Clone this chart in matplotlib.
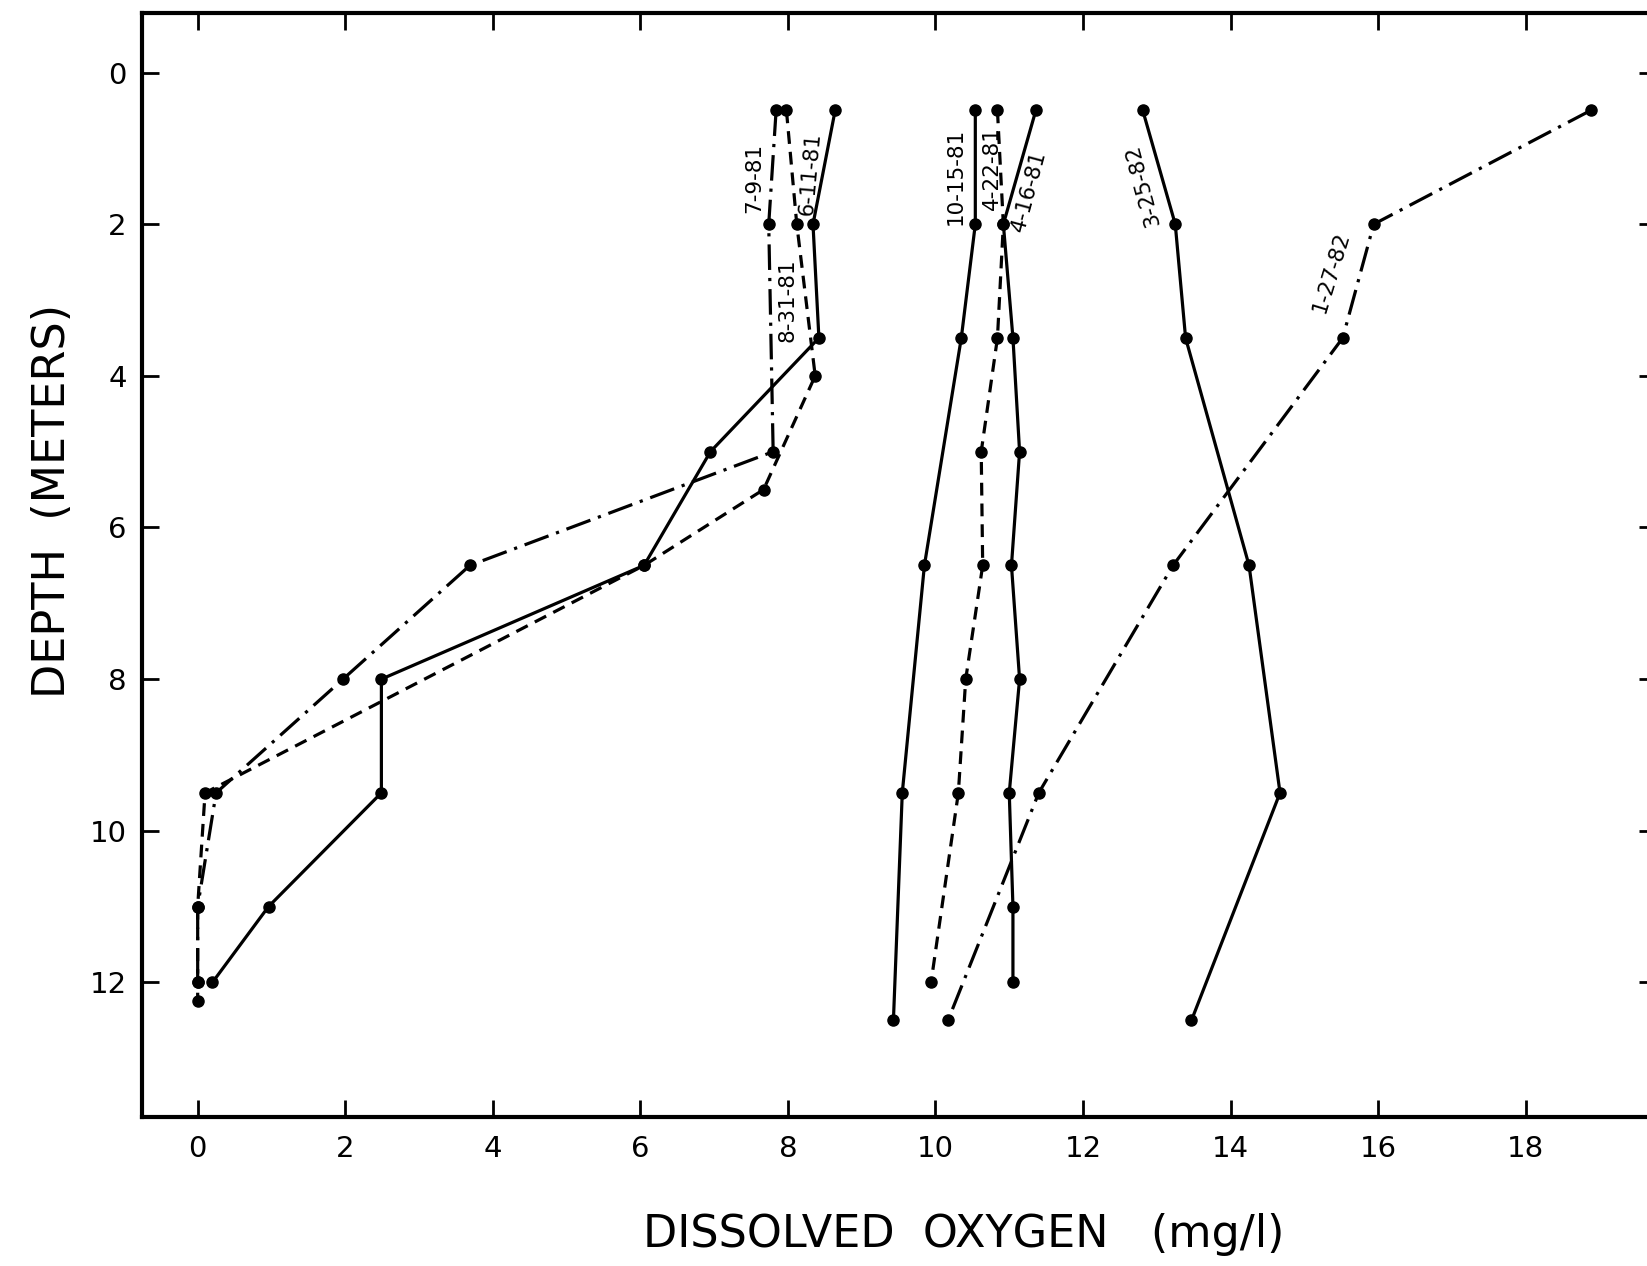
import matplotlib.pyplot as plt

# dissolved oxygen profiles (depth in m, DO in mg/l)
depth_6_11_81 = [0.5, 2, 3.5, 5, 6.5, 8, 9.5, 11, 12]
do_6_11_81 = [8.64, 8.34, 8.42, 6.95, 6.05, 2.49, 2.49, 0.96, 0.2]

depth_7_9_81 = [0.5, 2, 5, 6.5, 8, 9.5, 11, 12, 12.25]
do_7_9_81 = [7.84, 7.74, 7.8, 3.69, 1.97, 0.25, 0.0, 0.0, 0.0]

depth_8_31_81 = [0.5, 2, 4, 5.5, 6.5, 9.5, 11, 12]
do_8_31_81 = [7.98, 8.12, 8.37, 7.67, 6.05, 0.1, 0.0, 0.0]

depth_10_15_81 = [0.5, 2, 3.5, 6.5, 9.5, 12.5]
do_10_15_81 = [10.54, 10.54, 10.35, 9.85, 9.55, 9.43]

depth_4_22_81 = [0.5, 2, 3.5, 5, 6.5, 8, 9.5, 12]
do_4_22_81 = [10.84, 10.92, 10.84, 10.62, 10.64, 10.41, 10.31, 9.94]

depth_4_16_81 = [0.5, 2, 3.5, 5, 6.5, 8, 9.5, 11, 12]
do_4_16_81 = [11.36, 10.92, 11.05, 11.14, 11.03, 11.14, 11.0, 11.05, 11.05]

depth_3_25_82 = [0.5, 2, 3.5, 6.5, 9.5, 12.5]
do_3_25_82 = [12.81, 13.25, 13.39, 14.25, 14.67, 13.47]

depth_1_27_82 = [0.5, 2, 3.5, 6.5, 9.5, 12.5]
do_1_27_82 = [18.88, 15.94, 15.52, 13.22, 11.4, 10.17]

# date labels: text, x, y, rotation
label_text = ['7-9-81', '6-11-81', '8-31-81', '10-15-81', '4-22-81', '4-16-81', '3-25-82', '1-27-82']
label_x = [7.55, 8.3, 8.0, 10.28, 10.76, 11.27, 12.81, 15.36]
label_y = [1.39, 1.33, 3.0, 1.37, 1.26, 1.56, 1.48, 2.63]
label_rot = [90, 85, 90, 90, 90, 75, 105, 73]

dashdot = (0, (8, 2.5, 1, 2.5))
dashed = (0, (4, 2.5))

fig = plt.figure(figsize=(16.47, 12.66), dpi=100)
ax = fig.add_axes([0.0862, 0.118, 0.919, 0.872])

kw = dict(color='black', lw=2.3, marker='o', markersize=8)
ax.plot(do_6_11_81, depth_6_11_81, linestyle='-', **kw)
ax.plot(do_7_9_81, depth_7_9_81, linestyle=dashdot, **kw)
ax.plot(do_8_31_81, depth_8_31_81, linestyle=dashed, **kw)
ax.plot(do_10_15_81, depth_10_15_81, linestyle='-', **kw)
ax.plot(do_4_22_81, depth_4_22_81, linestyle=dashed, **kw)
ax.plot(do_4_16_81, depth_4_16_81, linestyle='-', **kw)
ax.plot(do_3_25_82, depth_3_25_82, linestyle='-', **kw)
ax.plot(do_1_27_82, depth_1_27_82, linestyle=dashdot, **kw)

for txt, x, y, r in zip(label_text, label_x, label_y, label_rot):
    ax.text(x, y, txt, rotation=r, fontsize=15.5, ha='center', va='center',
            rotation_mode='anchor')

ax.set_xlim(-0.755, 19.76)
ax.set_ylim(13.77, -0.79)
ax.set_xticks(range(0, 19, 2))
ax.set_yticks(range(0, 13, 2))

ax.tick_params(axis='both', direction='in', length=12, width=2,
               top=True, right=True, labelsize=21)
ax.tick_params(axis='x', pad=13)
ax.tick_params(axis='y', pad=11)
for s in ax.spines.values():
    s.set_linewidth(3)

ax.set_xlabel('DISSOLVED  OXYGEN   (mg/l)', fontsize=32)
ax.set_ylabel('DEPTH  (METERS)', fontsize=32)
ax.xaxis.set_label_coords(0.543, -0.087)
ax.yaxis.set_label_coords(-0.045, 0.558)

fig.savefig('out.png', dpi=100)
